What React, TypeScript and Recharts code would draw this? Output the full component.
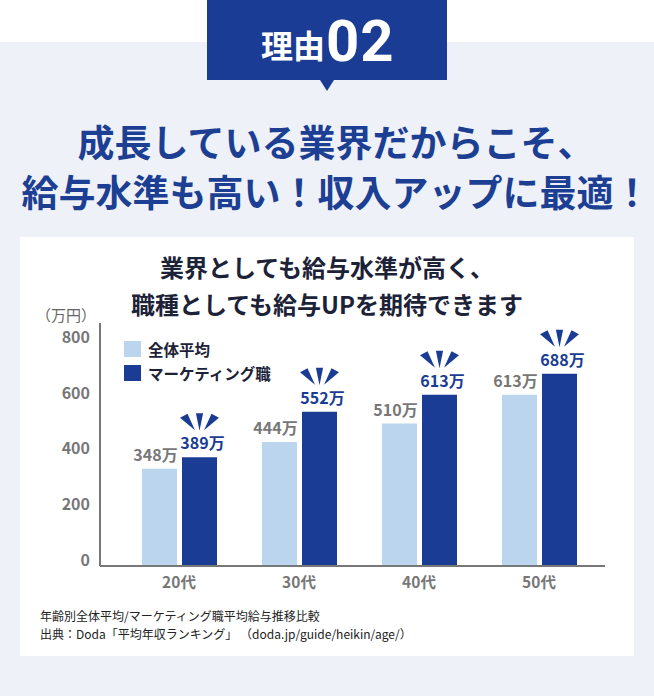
import { BarChart, Bar, XAxis, YAxis, Legend, LabelList } from 'recharts'

// 年代別の平均年収（万円）
const ages = ['20代', '30代', '40代', '50代']
const averageAll = [348, 444, 510, 613]
const marketing = [389, 552, 613, 688]
const yTicks = [0, 200, 400, 600, 800]
const seriesNames = ['全体平均', 'マーケティング職']
const unit = '万'

const NAVY = '#1a3c94'
const LIGHT = '#bcd5ee'
const GRAY = '#777777'
const DARK = '#1c2237'
const FONT = "'Noto Sans CJK JP', 'Noto Sans', sans-serif"

const data = ages.map((age, i) => ({ age, average: averageAll[i], marketing: marketing[i] }))
const colors = [LIGHT, NAVY]

const YTick = ({ x, y, payload }: any) => (
  <text x={x} y={y - 5.5} dy="0.35em" textAnchor="end" fill={GRAY} fontSize={16} fontWeight={700}>
    {payload.value}
  </text>
)

const XTick = ({ x, y, payload }: any) => (
  <text x={x} y={y + 9} dy="0.35em" textAnchor="middle" fill={GRAY} fontSize={15.5} fontWeight={700}>
    {payload.value}
  </text>
)

const AverageLabel = (props: any) => {
  const { x, y, width, value } = props
  return (
    <text x={x + width / 2 - 4} y={y - 8} textAnchor="middle" fill={GRAY} fontSize={16} fontWeight={700}>
      {value}{unit}
    </text>
  )
}

// 強調の「ピカッ」マーク付きラベル
const MarketingLabel = (props: any) => {
  const { x, y, width, value } = props
  const cx = x + width / 2
  return (
    <g>
      <polygon points={`${cx - 19.5},${y - 39.5} ${cx - 12},${y - 43.5} ${cx - 4.5},${y - 27}`} fill={NAVY} />
      <polygon points={`${cx - 3.6},${y - 44} ${cx + 3.6},${y - 44} ${cx},${y - 26.5}`} fill={NAVY} />
      <polygon points={`${cx + 12},${y - 43.5} ${cx + 19.5},${y - 39.5} ${cx + 4.5},${y - 27}`} fill={NAVY} />
      <text x={cx + 3} y={y - 8} textAnchor="middle" fill={NAVY} fontSize={16} fontWeight={700}>
        {value}{unit}
      </text>
    </g>
  )
}

const renderLegend = () => (
  <div>
    {seriesNames.map((name, i) => (
      <div key={name} style={{ display: 'flex', alignItems: 'center', height: 24 }}>
        <span style={{ width: 17, height: 16, background: colors[i], marginRight: 7 }} />
        <span style={{ fontSize: 15.5, fontWeight: 700, color: DARK, lineHeight: '24px' }}>{name}</span>
      </div>
    ))}
  </div>
)

export default function App() {
  return (
    <div
      style={{
        position: 'absolute', left: 0, top: 0, width: 654, height: 696,
        background: '#eef2f8', overflow: 'hidden', fontFamily: FONT
      }}
    >
      <div style={{ position: 'absolute', left: 0, top: 0, width: 654, height: 42, background: '#fff' }} />

      {/* 理由02 バッジ */}
      <div style={{ position: 'absolute', left: 207, top: 0, width: 240, height: 80, background: NAVY }} />
      <div
        style={{
          position: 'absolute', left: 320, top: 80, width: 0, height: 0,
          borderLeft: '7px solid transparent', borderRight: '7px solid transparent', borderTop: `11px solid ${NAVY}`
        }}
      />
      <div style={{ position: 'absolute', left: 261, top: 28, fontSize: 32, fontWeight: 700, color: '#fff', lineHeight: '32px' }}>
        理由
      </div>
      <div style={{ position: 'absolute', left: 326, top: 12, fontSize: 58, fontWeight: 700, color: '#fff', letterSpacing: 1, lineHeight: '58px', fontFamily: 'Roboto' }}>
        02
      </div>

      {/* 見出し */}
      <div
        style={{
          position: 'absolute', left: 18, top: 116, width: 636, textAlign: 'center',
          fontSize: 37, fontWeight: 700, color: '#1d3f93', lineHeight: '50px', whiteSpace: 'nowrap'
        }}
      >
        成長している業界だからこそ、<br />給与水準も高い！収入アップに最適！
      </div>

      {/* カード */}
      <div style={{ position: 'absolute', left: 20, top: 237, width: 614, height: 419, background: '#fff' }} />
      <div
        style={{
          position: 'absolute', left: 0, top: 249, width: 654, textAlign: 'center',
          fontSize: 24, fontWeight: 700, color: DARK, lineHeight: '36.5px', whiteSpace: 'nowrap'
        }}
      >
        業界としても給与水準が高く、<br />職種としても給与UPを期待できます
      </div>
      <div style={{ position: 'absolute', left: 36, top: 305, fontSize: 15, color: '#666', lineHeight: '20px' }}>
        （万円）
      </div>

      <div style={{ position: 'absolute', left: 0, top: 300 }}>
        <BarChart
          width={654}
          height={300}
          data={data}
          margin={{ top: 23, right: 49, left: 40, bottom: 4 }}
          barSize={35}
          barGap={5}
        >
          <XAxis
            dataKey="age"
            height={30}
            padding={{ left: 19, right: 6 }}
            axisLine={{ stroke: GRAY, strokeWidth: 2 }}
            tickLine={false}
            tick={<XTick />}
          />
          <YAxis
            width={60}
            domain={[0, 870]}
            ticks={yTicks}
            interval={0}
            axisLine={{ stroke: GRAY, strokeWidth: 2 }}
            tickLine={false}
            tickMargin={4}
            tick={<YTick />}
          />
          <Legend
            layout="vertical"
            align="center"
            verticalAlign="middle"
            content={renderLegend}
            wrapperStyle={{ top: 37, left: 124, width: 200 }}
          />
          <Bar dataKey="average" name={seriesNames[0]} fill={LIGHT} isAnimationActive={false}>
            <LabelList dataKey="average" content={<AverageLabel />} />
          </Bar>
          <Bar dataKey="marketing" name={seriesNames[1]} fill={NAVY} isAnimationActive={false}>
            <LabelList dataKey="marketing" content={<MarketingLabel />} />
          </Bar>
        </BarChart>
      </div>

      {/* 出典 */}
      <div
        style={{
          position: 'absolute', left: 40, top: 607, fontSize: 12, color: '#222', lineHeight: '18px', whiteSpace: 'nowrap'
        }}
      >
        年齢別全体平均/マーケティング職平均給与推移比較<br />
        出典：Doda「平均年収ランキング」 （doda.jp/guide/heikin/age/）
      </div>
    </div>
  )
}
